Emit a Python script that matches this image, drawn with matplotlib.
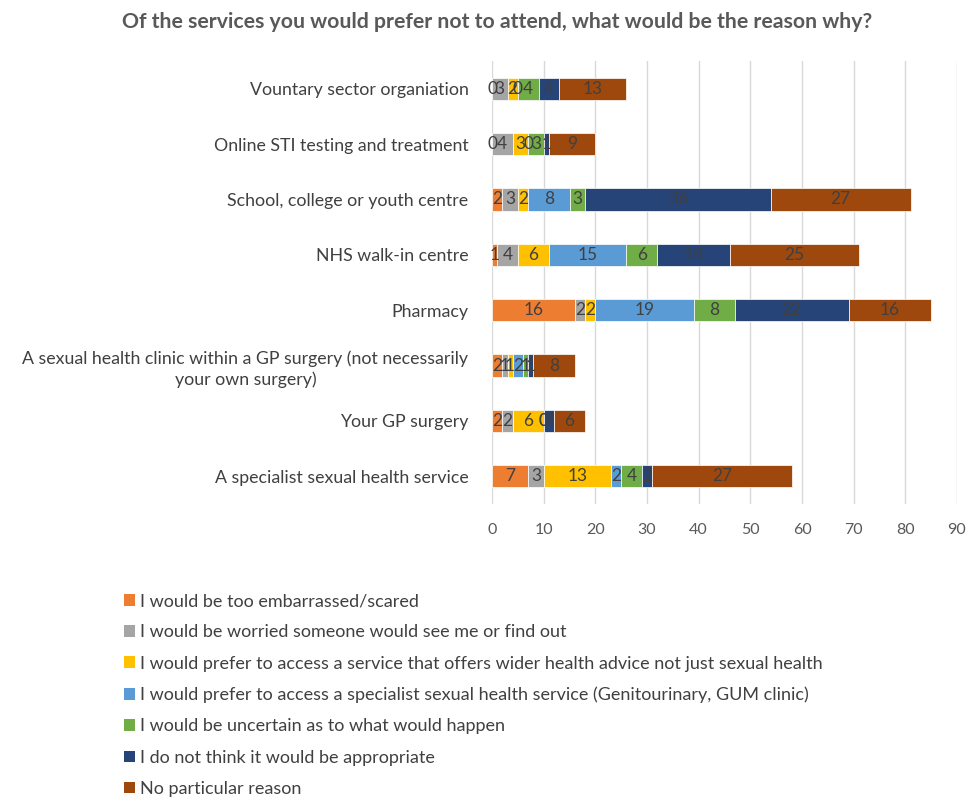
import matplotlib
matplotlib.use("Agg")
import matplotlib.pyplot as plt
from matplotlib.patches import Patch
import numpy as np

plt.rcParams['font.family'] = ['Lato', 'DejaVu Sans']

categories = [
    "Vountary sector organiation",
    "Online STI testing and treatment",
    "School, college or youth centre",
    "NHS walk-in centre",
    "Pharmacy",
    "A sexual health clinic within a GP surgery (not necessarily\nyour own surgery)",
    "Your GP surgery",
    "A specialist sexual health service",
]

series_names = [
    "I would be too embarrassed/scared",
    "I would be worried someone would see me or find out",
    "I would prefer to access a service that offers wider health advice not just sexual health",
    "I would prefer to access a specialist sexual health service (Genitourinary, GUM clinic)",
    "I would be uncertain as to what would happen",
    "I do not think it would be appropriate",
    "No particular reason",
]

embarrassed   = [0, 0, 2, 1, 16, 2, 2, 7]
worried       = [3, 4, 3, 4, 2, 1, 2, 3]
wider_health  = [2, 3, 2, 6, 2, 1, 6, 13]
specialist    = [0, 0, 8, 15, 19, 2, 0, 2]
uncertain     = [4, 3, 3, 6, 8, 1, 0, 4]
inappropriate = [4, 1, 36, 14, 22, 1, 2, 2]
no_reason     = [13, 9, 27, 25, 16, 8, 6, 27]

series_values = [embarrassed, worried, wider_health, specialist,
                 uncertain, inappropriate, no_reason]

colors = ["#ED7D31", "#A5A5A5", "#FFC000", "#5B9BD5", "#70AD47", "#264478", "#9E480E"]

x_ticks = [0, 10, 20, 30, 40, 50, 60, 70, 80, 90]

fig = plt.figure(figsize=(9.69, 7.98), dpi=100)
ax = fig.add_axes([492/969, 1-504/798, 465/969, 443/798])

y = np.arange(len(categories))
left = np.zeros(len(categories))
for vals, col in zip(series_values, colors):
    vals = np.array(vals, dtype=float)
    ax.barh(y, vals, left=left, height=0.4, color=col, edgecolor='white',
            linewidth=0.5, zorder=3)
    for yi, (l, v) in enumerate(zip(left, vals)):
        ax.text(l + v/2, yi, f"{int(v)}", ha='center', va='center',
                fontsize=12.5, color='#404040', zorder=4)
    left += vals

ax.set_ylim(len(categories) - 0.5, -0.5)
ax.set_xlim(0, 90)
ax.set_xticks(x_ticks)
ax.set_xticklabels([str(t) for t in x_ticks], fontsize=11.5, color='#595959')
ax.set_yticks(y)
ax.set_yticklabels(categories, fontsize=12.8, color='#404040',
                   multialignment='center', linespacing=1.35)
ax.tick_params(axis='both', length=0)
ax.tick_params(axis='x', pad=14)
ax.tick_params(axis='y', pad=17)
for s in ax.spines.values():
    s.set_visible(False)
ax.grid(axis='x', color='#D9D9D9', linewidth=1, zorder=0)
ax.set_axisbelow(True)

fig.text(497/969, 1-22/798, "Of the services you would prefer not to attend, what would be the reason why?",
         ha='center', va='center', fontsize=15.3, fontweight='bold', color='#595959')

handles = [Patch(facecolor=c, edgecolor='none') for c in colors]
leg = fig.legend(handles, series_names, loc='upper left',
                 bbox_to_anchor=(117/969, 1-586/798), frameon=False,
                 fontsize=13, handlelength=0.6, handleheight=0.6,
                 handletextpad=0.3, labelspacing=0.84, borderaxespad=0)
for t in leg.get_texts():
    t.set_color('#404040')

fig.savefig("out.png", dpi=100)
